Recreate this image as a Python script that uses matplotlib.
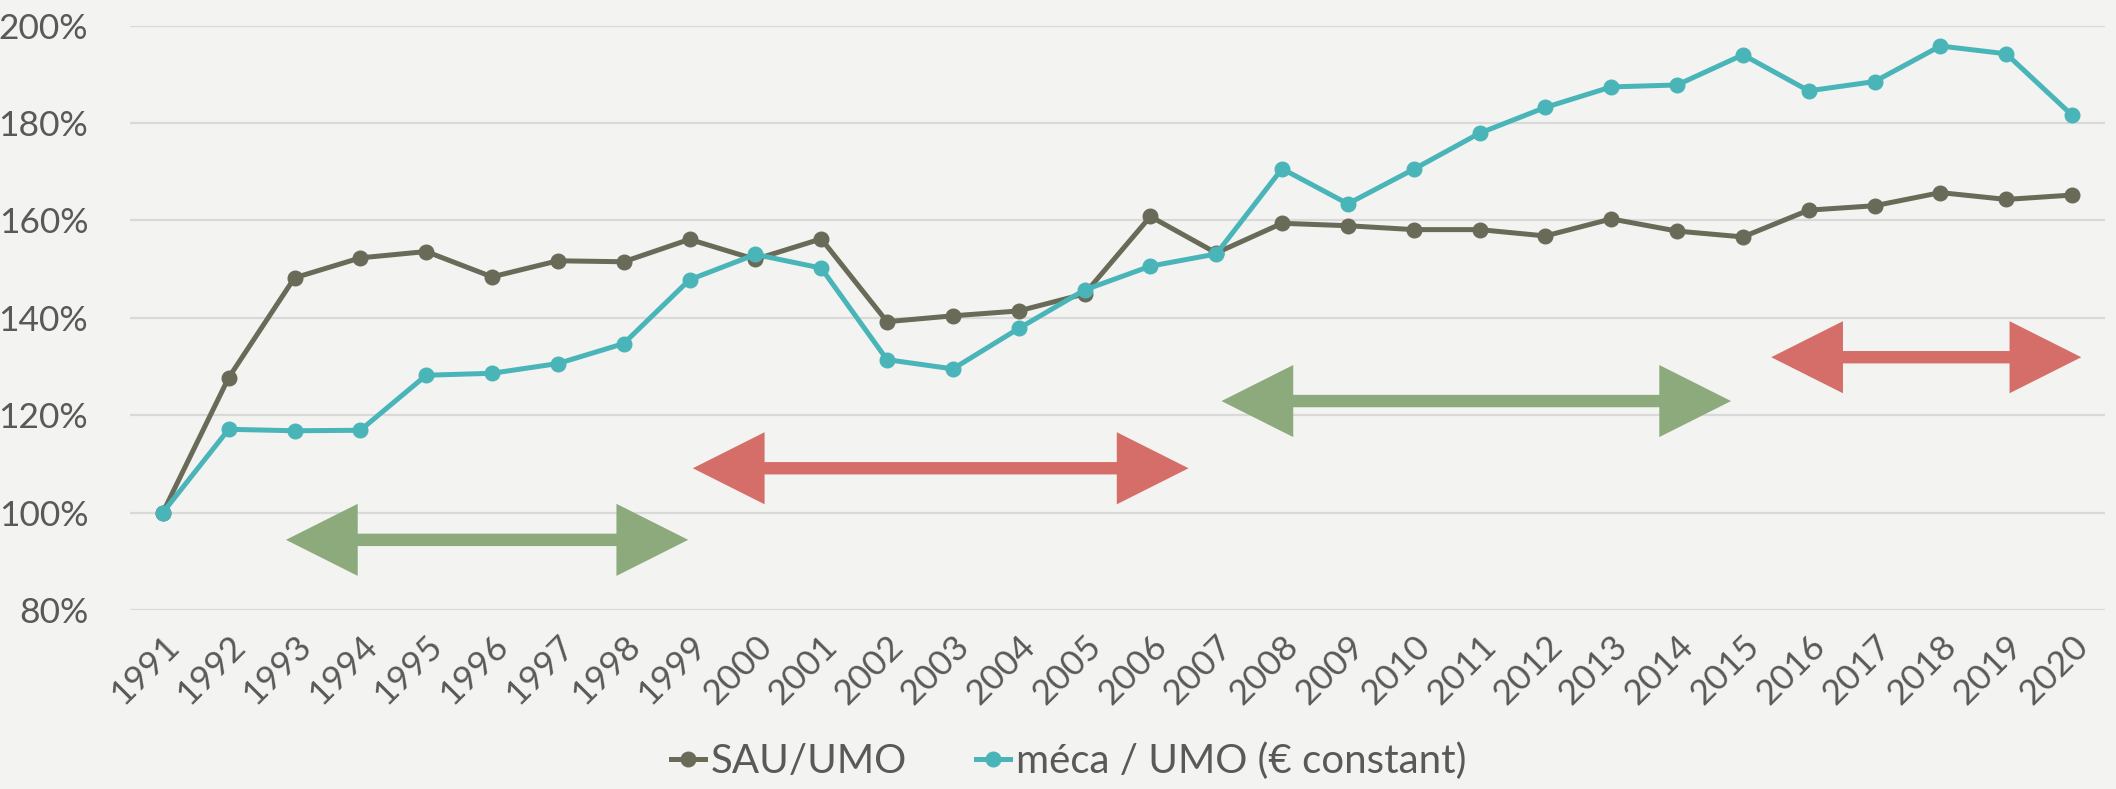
import numpy as np
import matplotlib.pyplot as plt
from matplotlib.patches import Polygon

# Années
annees = list(range(1991, 2021))

# Indices base 100 en 1991 (%)
sau_umo = [100, 127.7, 148.2, 152.3, 153.6, 148.4, 151.7, 151.5, 156.1, 152.0,
           156.2, 139.2, 140.4, 141.4, 144.9, 160.8, 153.3, 159.4, 158.9, 158.1,
           158.1, 156.8, 160.3, 157.8, 156.6, 162.1, 163.0, 165.7, 164.3, 165.2]
meca_umo = [100, 117.1, 116.8, 116.9, 128.2, 128.6, 130.6, 134.7, 147.8, 153.0,
            150.2, 131.4, 129.5, 137.8, 145.7, 150.6, 153.1, 170.6, 163.4, 170.5,
            177.9, 183.2, 187.4, 187.8, 194.0, 186.6, 188.5, 195.8, 194.2, 181.6]

# Périodes (flèches) : début, fin, niveau
periodes_debut = [1992.87, 1999.05, 2007.08, 2015.43]
periodes_fin = [1998.98, 2006.58, 2014.82, 2020.14]
periodes_niveau = [94.4, 109.1, 122.9, 131.9]
periodes_couleur = ["#8CAA7C", "#D56E68", "#8CAA7C", "#D56E68"]

yticks = [80, 100, 120, 140, 160, 180, 200]

plt.rcParams["font.family"] = ["Lato", "DejaVu Sans"]

fond = "#F3F3F1"
texte = "#595959"

fig = plt.figure(figsize=(21.16, 7.89), dpi=100, facecolor=fond)
ax = fig.add_axes([0.0614, 0.2269, 0.9334, 0.7407])
ax.set_facecolor(fond)

ax.set_xlim(1990.5, 2020.5)
ax.set_ylim(80, 200)
ax.set_yticks(yticks)
ax.set_yticklabels([f"{v}%" for v in yticks])
ax.set_xticks(annees)
ax.set_xticklabels([str(a) for a in annees], rotation=45, ha="right",
                   rotation_mode="anchor")
ax.tick_params(axis="both", length=0, labelsize=25.5, colors=texte)
ax.tick_params(axis="y", pad=30)
ax.tick_params(axis="x", pad=14)
ax.grid(axis="y", color="#D9D9D9", linewidth=1.6)
ax.set_axisbelow(True)
for s in ax.spines.values():
    s.set_visible(False)

# Flèches doubles
tete_l = 1.09   # longueur de la tête (années)
tete_h = 7.4    # demi-hauteur de la tête (%)
corps_h = 1.27  # demi-épaisseur du corps (%)
for x0, x1, y, c in zip(periodes_debut, periodes_fin, periodes_niveau, periodes_couleur):
    pts = [
        (x0, y),
        (x0 + tete_l, y + tete_h),
        (x0 + tete_l, y + corps_h),
        (x1 - tete_l, y + corps_h),
        (x1 - tete_l, y + tete_h),
        (x1, y),
        (x1 - tete_l, y - tete_h),
        (x1 - tete_l, y - corps_h),
        (x0 + tete_l, y - corps_h),
        (x0 + tete_l, y - tete_h),
    ]
    ax.add_patch(Polygon(pts, closed=True, facecolor=c, edgecolor="none", zorder=2))

ax.plot(annees, sau_umo, color="#696B58", linewidth=3.6, marker="o",
        markersize=10.5, label="SAU/UMO", zorder=3)
ax.plot(annees, meca_umo, color="#4AB5B8", linewidth=3.6, marker="o",
        markersize=10.5, label="méca / UMO (€ constant)", zorder=4)

leg = fig.legend(loc="lower center", bbox_to_anchor=(0.505, -0.035), ncol=2,
                 frameon=False, fontsize=29, handlelength=0.85, handletextpad=0.15,
                 columnspacing=1.7)
for t in leg.get_texts():
    t.set_color(texte)

fig.savefig("out.png", dpi=100, facecolor=fond)
